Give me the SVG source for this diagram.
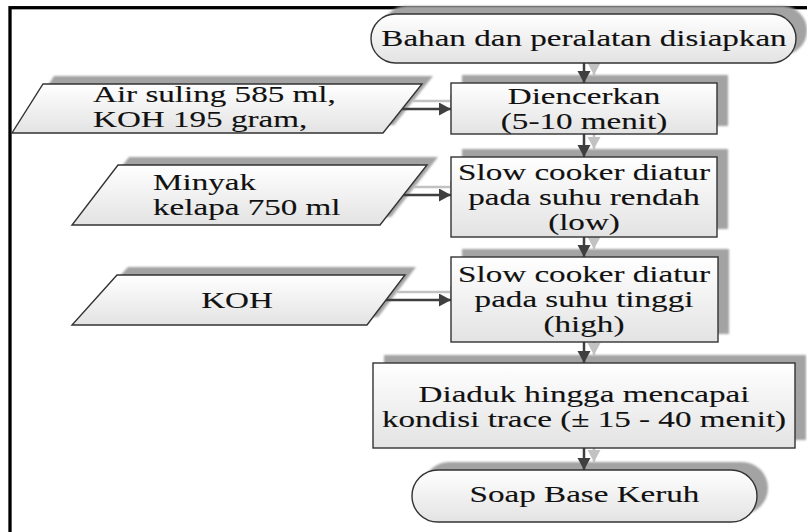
<svg xmlns="http://www.w3.org/2000/svg" width="807" height="532" viewBox="0 0 807 532" font-family="'Liberation Serif', 'DejaVu Serif', serif">
<style>
.shape{stroke:#333333;stroke-width:1.4;fill:url(#fillg)}
.shadow{fill:#a3a3a3;filter:url(#soft)}
.ghost{stroke:#c2c2c2;stroke-width:2.5;fill:none;marker-end:url(#ghosthead)}
.conn{stroke:#3f3f3f;stroke-width:2.5;fill:none;marker-end:url(#head)}
text{font-family:'Liberation Serif', 'DejaVu Serif', serif;font-size:24px;fill:#111;stroke:#111;stroke-width:0.12}
.c{text-anchor:middle}
</style>
<defs>
<linearGradient id="fillg" x1="0" y1="0" x2="0" y2="1">
<stop offset="0" stop-color="#ffffff"/>
<stop offset="1" stop-color="#e3e3e3"/>
</linearGradient>
<filter id="soft" x="-5%" y="-20%" width="110%" height="140%">
<feGaussianBlur stdDeviation="1.2"/>
</filter>
<marker id="head" markerUnits="userSpaceOnUse" markerWidth="14" markerHeight="14" refX="12" refY="6.5" orient="auto">
<path d="M0,0 L12,6.5 L0,13 Z" fill="#3f3f3f"/>
</marker>
<marker id="ghosthead" markerUnits="userSpaceOnUse" markerWidth="14" markerHeight="14" refX="12" refY="6.5" orient="auto">
<path d="M0,0 L12,6.5 L0,13 Z" fill="#c2c2c2"/>
</marker>
</defs>
<rect x="10" y="7.7" width="830" height="560" fill="none" stroke="#000" stroke-width="3.3"/>

<g id="shadows">
<rect class="shadow" x="382" y="6" width="425" height="49" rx="24.5"/>
<polygon class="shadow" points="54,76 433,76 394,125 23,125"/>
<polygon class="shadow" points="129,157 438,157 391,217 83,217"/>
<polygon class="shadow" points="128,267 416,267 378,317 83,317"/>
<rect class="shadow" x="462" y="75" width="266" height="51"/>
<rect class="shadow" x="462" y="149" width="266" height="80"/>
<rect class="shadow" x="462" y="249" width="267" height="85"/>
<rect class="shadow" x="384" y="355" width="422" height="85"/>
<rect class="shadow" x="423" y="462" width="345" height="52" rx="26"/>
<path class="ghost" d="M594,55 V75"/>
<path class="ghost" d="M594,126 V149"/>
<path class="ghost" d="M594,229 V249"/>
<path class="ghost" d="M594,334 V355"/>
<path class="ghost" d="M594,440 V462"/>
<path class="ghost" d="M413,101 H462"/>
<path class="ghost" d="M414,187 H462"/>
<path class="ghost" d="M397,292 H462"/>
</g>

<g id="connectors">
<path class="conn" d="M584,63 V83"/>
<path class="conn" d="M584,134 V157"/>
<path class="conn" d="M584,237 V257"/>
<path class="conn" d="M584,342 V363"/>
<path class="conn" d="M584,448 V470"/>
<path class="conn" d="M402,109 H451"/>
<path class="conn" d="M403,195 H451"/>
<path class="conn" d="M386,300 H451"/>
</g>

<g id="start">
<rect class="shape" x="371" y="14" width="425" height="49" rx="24.5"/>
<text class="c" transform="matrix(1.38 0 0 1 584 0)" x="0" y="46">Bahan dan peralatan disiapkan</text>
</g>

<g id="input1">
<polygon class="shape" points="43,84 422,84 383,133 12,133"/>
<text transform="matrix(1.38 0 0 1 93 0)" x="0" y="102">Air suling 585 ml,</text>
<text transform="matrix(1.38 0 0 1 93 0)" x="0" y="127">KOH 195 gram,</text>
</g>

<g id="input2">
<polygon class="shape" points="118,165 427,165 380,225 72,225"/>
<text transform="matrix(1.38 0 0 1 153 0)" x="0" y="190">Minyak</text>
<text transform="matrix(1.38 0 0 1 153 0)" x="0" y="215">kelapa 750 ml</text>
</g>

<g id="input3">
<polygon class="shape" points="117,275 405,275 367,325 72,325"/>
<text class="c" transform="matrix(1.38 0 0 1 237 0)" x="0" y="308">KOH</text>
</g>

<g id="step1">
<rect class="shape" x="451" y="83" width="266" height="51"/>
<text class="c" transform="matrix(1.38 0 0 1 584 0)" x="0" y="104">Diencerkan</text>
<text class="c" transform="matrix(1.38 0 0 1 584 0)" x="0" y="129">(5-10 menit)</text>
</g>

<g id="step2">
<rect class="shape" x="451" y="157" width="266" height="80"/>
<text class="c" transform="matrix(1.38 0 0 1 584 0)" x="0" y="180">Slow cooker diatur</text>
<text class="c" transform="matrix(1.38 0 0 1 584 0)" x="0" y="205">pada suhu rendah</text>
<text class="c" transform="matrix(1.38 0 0 1 584 0)" x="0" y="230">(low)</text>
</g>

<g id="step3">
<rect class="shape" x="451" y="257" width="267" height="85"/>
<text class="c" transform="matrix(1.38 0 0 1 584 0)" x="0" y="282">Slow cooker diatur</text>
<text class="c" transform="matrix(1.38 0 0 1 584 0)" x="0" y="307">pada suhu tinggi</text>
<text class="c" transform="matrix(1.38 0 0 1 584 0)" x="0" y="332">(high)</text>
</g>

<g id="step4">
<rect class="shape" x="373" y="363" width="422" height="85"/>
<text class="c" transform="matrix(1.38 0 0 1 584 0)" x="0" y="402">Diaduk hingga mencapai</text>
<text class="c" transform="matrix(1.38 0 0 1 584 0)" x="0" y="427">kondisi trace (± 15 - 40 menit)</text>
</g>

<g id="end">
<rect class="shape" x="412" y="470" width="345" height="52" rx="26"/>
<text class="c" transform="matrix(1.38 0 0 1 584.5 0)" x="0" y="502">Soap Base Keruh</text>
</g>
</svg>
